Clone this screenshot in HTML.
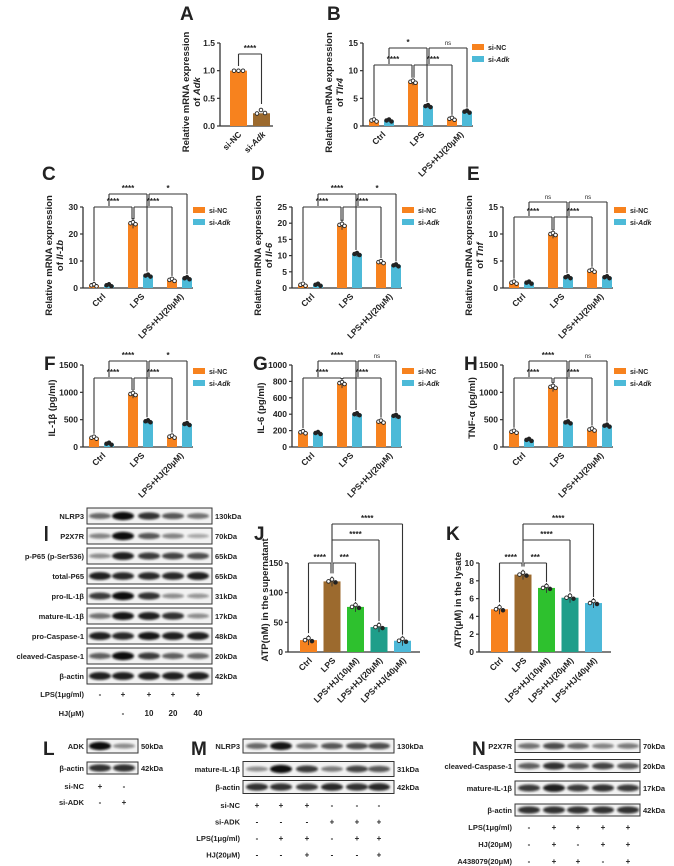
<!DOCTYPE html>
<html><head><meta charset="utf-8">
<style>
html,body{margin:0;padding:0;background:#fff;}
svg{display:block;font-family:"Liberation Sans",Arial,sans-serif;}
</style></head>
<body>
<svg id="s" width="674" height="866" viewBox="0 0 674 866" xmlns="http://www.w3.org/2000/svg">
<defs><filter id="bl" x="-20%" y="-50%" width="140%" height="200%"><feGaussianBlur stdDeviation="1.1"/></filter></defs>
</svg>
<script>
var S=document.getElementById('s');var out='';
function t(x,y,s,o){o=o||{};out+='<text x="'+x+'" y="'+y+'" font-size="'+(o.fs||8)+'" font-weight="'+(o.fw||'bold')+'" text-anchor="'+(o.a||'start')+'"'+(o.tr?' transform="'+o.tr+'"':'')+' fill="#222">'+s+'</text>';}
function l(x1,y1,x2,y2,w){out+='<line x1="'+x1+'" y1="'+y1+'" x2="'+x2+'" y2="'+y2+'" stroke="#333" stroke-width="'+(w||1.1)+'"/>';}
function r(x,y,w,h,f){out+='<rect x="'+x+'" y="'+y+'" width="'+w+'" height="'+h+'" fill="'+f+'"/>';}
function c(x,y,f){out+='<circle cx="'+x+'" cy="'+y+'" r="1.8" fill="'+(f?'#222':'#fff')+'" stroke="#222" stroke-width="0.9"/>';}
function letter(x,y,s){t(x,y,s,{fs:19,fw:'bold'});}
function bracket(x1,x2,y,b1,b2,lab){l(x1,y,x2,y);l(x1,y,x1,b1);l(x2,y,x2,b2);t((x1+x2)/2,y-3,lab,{fs:lab=='ns'?6:8,a:'middle',fw:lab=='ns'?'normal':'bold'});}
function axis(ax,y0,yt,max,ticks,end,fmt){l(ax,yt,ax,y0,1.3);l(ax,y0,end,y0,1.3);
 ticks.forEach(function(v){var y=y0-(y0-yt)*v/max;l(ax-3,y,ax,y,1.2);t(ax-5,y+3,fmt?fmt(v):v,{fs:8.5,a:'end'});});}
var OR='#F7821E',CY='#4DBAD8',BR='#9C6A2E';
function grouped(ax,y0,yt,max,ticks,vals,br,legX,legY,ylab,groups,fmt){
 axis(ax,y0,yt,max,ticks,ax+110,fmt);var sc=(y0-yt)/max;var tops=[];
 vals.forEach(function(p,i){var gx=ax+6+39*i;
  [[p[0],OR,0],[p[1],CY,15]].forEach(function(q){var x=gx+q[2],h=q[0]*sc;r(x,y0-h,10,h,q[1]);
   l(x+5,y0-h-h*0.08,x+5,y0-h+h*0.08,0.9);c(x+2.5,y0-h,q[2]==0?0:1);c(x+5,y0-h-1,q[2]==0?0:1);c(x+7.5,y0-h+1,q[2]==0?0:1);
   tops.push({x:x+5,y:y0-h});});});
 var lo=br[0],hi=br[1];
 bracket(tops[0].x,tops[2].x-1,lo,tops[0].y-4,tops[2].y-4,br[2]);
 bracket(tops[2].x+1,tops[4].x,lo,tops[2].y-4,tops[4].y-4,br[3]);
 bracket(tops[1].x,tops[3].x-1,hi,lo-1,tops[3].y-4,br[4]);
 bracket(tops[3].x+1,tops[5].x,hi,lo-1,tops[5].y-4,br[5]);
 r(legX,legY-5,12,6,OR);t(legX+16,legY+1,'si-NC',{fs:7});
 r(legX,legY+7,12,6,CY);out+='<text x="'+(legX+16)+'" y="'+(legY+13)+'" font-size="7" font-weight="bold" fill="#222">si-<tspan font-style="italic">Adk</tspan></text>';
 ['Ctrl','LPS','LPS+HJ(20μM)'].forEach(function(s,i){var gx=ax+6+39*i+17;t(gx,y0+9,s,{fs:8.5,a:'end',tr:'rotate(-45 '+gx+' '+(y0+9)+')'});});
 var cy=(y0+yt)/2+8;
 if(ylab.length==2){
  out+='<text font-size="9.5" font-weight="bold" text-anchor="middle" fill="#222" transform="translate('+(ax-31)+','+cy+') rotate(-90)">'+ylab[0]+'</text>';
  out+='<text font-size="9.5" font-weight="bold" text-anchor="middle" fill="#222" transform="translate('+(ax-20)+','+cy+') rotate(-90)">of <tspan font-style="italic">'+ylab[1]+'</tspan></text>';
 } else out+='<text font-size="9.5" font-weight="bold" text-anchor="middle" fill="#222" transform="translate('+(ax-28)+','+(cy-6)+') rotate(-90)">'+ylab[0]+'</text>';
}
letter(180,20,'A');
axis(220,126,43,1.5,[0,0.5,1.0,1.5],273,function(v){return v.toFixed(1)});
r(230,126-83/1.5,17,83/1.5,OR);r(253,126-0.23*83/1.5,17,0.23*83/1.5,BR);
c(234,70.7,0);c(238.5,70.7,0);c(243,70.7,0);c(257,113.5,0);c(261,110,0);c(265,113,0);
bracket(238.5,261.5,54,66,104,'****');
t(242,135,'si-NC',{fs:8.5,a:'end',tr:'rotate(-45 242 135)'});
out+='<text font-size="8.5" font-weight="bold" text-anchor="end" fill="#222" transform="rotate(-45 266 135)" x="266" y="135">si-<tspan font-style="italic">Adk</tspan></text>';
out+='<text font-size="9.5" font-weight="bold" text-anchor="middle" fill="#222" transform="translate(189,92) rotate(-90)">Relative mRNA expression</text>';
out+='<text font-size="9.5" font-weight="bold" text-anchor="middle" fill="#222" transform="translate(200,92) rotate(-90)">of <tspan font-style="italic">Adk</tspan></text>';
letter(327,20,'B');
grouped(363,126,43,15,[0,5,10,15],[[1,1],[8,3.6],[1.3,2.6]],[65,48,'****','****','*','ns'],472,49,['Relative mRNA expression','Tlr4']);
letter(42,180,'C');letter(251,180,'D');letter(467,180,'E');
grouped(83,288,207,30,[0,10,20,30],[[1,1],[24,4.6],[3,3.6]],[207,194,'****','****','****','*'],193,212,['Relative mRNA expression','Il-1b']);
grouped(292,288,207,25,[0,5,10,15,20,25],[[1,1],[19.5,10.5],[8,7]],[207,194,'****','****','****','*'],402,212,['Relative mRNA expression','Il-6']);
grouped(503,288,207,15,[0,5,10,15],[[1,1],[10,2],[3.2,2]],[217,202,'****','****','ns','ns'],614,212,['Relative mRNA expression','Tnf']);
letter(44,370,'F');letter(253,370,'G');letter(464,370,'H');
grouped(83,447,365,1500,[0,500,1000,1500],[[170,60],[970,470],[190,420]],[378,361,'****','****','****','*'],193,373,['IL-1β (pg/ml)']);
grouped(292,447,365,1000,[0,200,400,600,800,1000],[[180,170],[780,400],[310,380]],[378,361,'****','****','****','ns'],402,373,['IL-6 (pg/ml)']);
grouped(503,447,365,1500,[0,500,1000,1500],[[280,130],[1100,450],[320,390]],[378,361,'****','****','****','ns'],614,373,['TNF-α (pg/ml)']);
function atp(ax,max,ticks,vals,lab,lx){var y0=652,yt=563;axis(ax,y0,yt,max,ticks,ax+132);var sc=(y0-yt)/max;
 var cols=[OR,BR,'#2EC12E','#1F9E8A','#4CB8D8'];var tops=[];
 vals.forEach(function(v,i){var x=ax+12+23.5*i,h=v*sc;r(x,y0-h,17,h,cols[i]);l(x+8.5,y0-h-5,x+8.5,y0-h+5,0.9);c(x+5,y0-h,0);c(x+8.5,y0-h-2,0);c(x+12,y0-h+1,1);tops.push({x:x+8.5,y:y0-h});});
 bracket(tops[0].x,tops[1].x-1,563,tops[0].y-7,tops[1].y-8,'****');
 bracket(tops[1].x+1,tops[2].x,563,tops[1].y-8,tops[2].y-6,'***');
 bracket(tops[1].x,tops[3].x,540,563,tops[3].y-6,'****');
 bracket(tops[1].x,tops[4].x,524,540,tops[4].y-6,'****');
 ['Ctrl','LPS','LPS+HJ(10μM)','LPS+HJ(20μM)','LPS+HJ(40μM)'].forEach(function(s,i){var gx=tops[i].x+4;t(gx,y0+9,s,{fs:8.5,a:'end',tr:'rotate(-45 '+gx+' '+(y0+9)+')'});});
 out+='<text font-size="9.5" font-weight="bold" text-anchor="middle" fill="#222" transform="translate('+lx+',600) rotate(-90)">'+lab+'</text>';}
letter(254,540,'J');letter(446,540,'K');
atp(288,150,[0,50,100,150],[20,119,76,42,19],'ATP(nM) in the supernatant',268);
atp(479,10,[0,2,4,6,8,10],[4.8,8.7,7.2,6.1,5.5],'ATP(μM) in the lysate',461);
function blot(x1,x2,yc,h,lanes,ints,name,kda,lx){out+='<rect x="'+x1+'" y="'+(yc-h/2)+'" width="'+(x2-x1)+'" height="'+h+'" fill="#f2f2f2" stroke="#333" stroke-width="1"/>';
 lanes.forEach(function(x,i){var v=ints[i];out+='<ellipse cx="'+x+'" cy="'+yc+'" rx="11" ry="'+(1.8+2.3*v)+'" fill="#0a0a0a" opacity="'+(0.2+0.8*v)+'" filter="url(#bl)"/>';});
 t(lx,yc+3,name,{fs:7.5,a:'end'});t(x2+3,yc+3,kda,{fs:7.5});}
var IL=[100,123,149,173,198];
var Irows=[['NLRP3','130kDa',[.5,1,.8,.6,.45]],['P2X7R','70kDa',[.35,1,.6,.35,.15]],['p-P65 (p-Ser536)','65kDa',[.3,.9,.75,.7,.65]],['total-P65','65kDa',[.9,.85,.85,.85,.9]],['pro-IL-1β','31kDa',[.75,1,.8,.3,.25]],['mature-IL-1β','17kDa',[.45,.95,.9,.8,.3]],['pro-Caspase-1','48kDa',[.9,.85,.95,.9,.9]],['cleaved-Caspase-1','20kDa',[.55,1,.75,.55,.5]],['β-actin','42kDa',[.9,.9,.9,.9,.9]]];
Irows.forEach(function(q,i){blot(87,212,516+20*i,16,IL,q[2],q[0],q[1],84);});
out+='<rect x="45" y="526" width="2.5" height="15" fill="#222"/>';
t(84,697,'LPS(1μg/ml)',{fs:7.5,a:'end'});t(84,716,'HJ(μM)',{fs:7.5,a:'end'});
['-','+','+','+','+'].forEach(function(s,i){t(IL[i],697,s,{fs:8,a:'middle'});});
['','-','10','20','40'].forEach(function(s,i){t(IL[i],716,s,{fs:8,a:'middle'});});
letter(43,755,'L');
blot(87,138,746,14,[100,124],[1,.3],'ADK','50kDa',84);
blot(87,138,768,12,[100,124],[.8,.8],'β-actin','42kDa',84);
t(84,789,'si-NC',{fs:7.5,a:'end'});t(84,805,'si-ADK',{fs:7.5,a:'end'});
t(100,789,'+',{fs:8,a:'middle'});t(124,789,'-',{fs:8,a:'middle'});t(100,805,'-',{fs:8,a:'middle'});t(124,805,'+',{fs:8,a:'middle'});
letter(191,755,'M');
var ML=[257,281,307,332,357,379];
blot(243,394,746,14,ML,[.5,.95,.45,.6,.65,.65],'NLRP3','130kDa',240);
blot(243,394,769,15,ML,[.3,1,.75,.4,.7,.6],'mature-IL-1β','31kDa',240);
blot(243,394,787,13,ML,[.8,.8,.75,.85,.8,.85],'β-actin','42kDa',240);
var Mc=[['si-NC','+++---'],['si-ADK','---+++'],['LPS(1μg/ml)','-++-++'],['HJ(20μM)','--+--+']];
Mc.forEach(function(q,i){var y=808+16.5*i;t(240,y,q[0],{fs:7.5,a:'end'});q[1].split('').forEach(function(s,j){t(ML[j],y,s,{fs:8,a:'middle'});});});
letter(472,755,'N');
var NL=[529,554,578,603,628];
blot(515,640,746,13,NL,[.45,.65,.5,.35,.4],'P2X7R','70kDa',512);
blot(515,640,766,13,NL,[.55,.8,.6,.7,.6],'cleaved-Caspase-1','20kDa',512);
blot(515,640,788,14,NL,[.75,.9,.75,.8,.75],'mature-IL-1β','17kDa',512);
blot(515,640,810,12,NL,[.8,.8,.8,.8,.8],'β-actin','42kDa',512);
var Nc=[['LPS(1μg/ml)','-++++'],['HJ(20μM)','-+-++'],['A438079(20μM)','-++-+']];
Nc.forEach(function(q,i){var y=830+17*i;t(512,y,q[0],{fs:7.5,a:'end'});q[1].split('').forEach(function(s,j){t(NL[j],y,s,{fs:8,a:'middle'});});});
S.insertAdjacentHTML('beforeend',out);
</script>
</body></html>
